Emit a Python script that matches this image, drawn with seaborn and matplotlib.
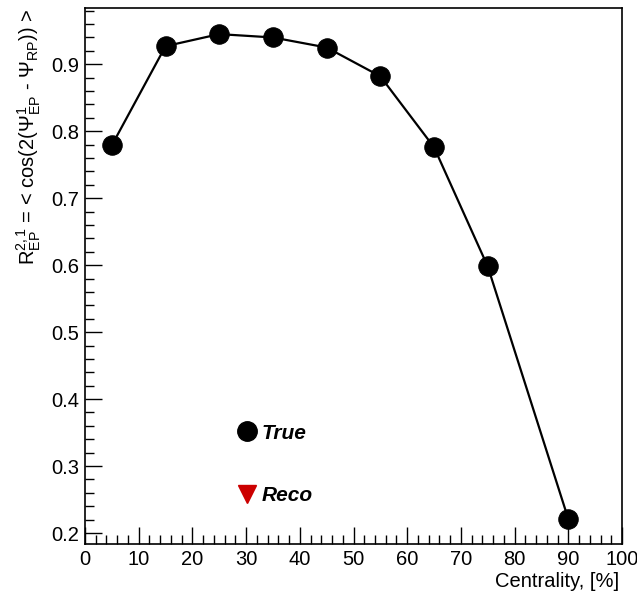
import matplotlib
matplotlib.use("Agg")
import matplotlib.pyplot as plt
from matplotlib.lines import Line2D
from matplotlib.ticker import MultipleLocator, FormatStrFormatter
import seaborn as sns
import pandas as pd

# Event-plane resolution vs centrality
centrality = [5, 15, 25, 35, 45, 55, 65, 75, 90]
resolution_true = [0.779, 0.927, 0.945, 0.940, 0.925, 0.882, 0.776, 0.598, 0.221]
series_labels = ["True", "Reco"]

sns.set_theme(style="ticks")
plt.rcParams["font.family"] = ["Liberation Sans", "DejaVu Sans"]
plt.rcParams["mathtext.fontset"] = "custom"
plt.rcParams["mathtext.rm"] = "Liberation Sans"
plt.rcParams["mathtext.it"] = "Liberation Sans:italic"
plt.rcParams["text.color"] = "black"
plt.rcParams["axes.labelcolor"] = "black"

W, H = 637, 591
fig = plt.figure(figsize=(W / 100, H / 100), dpi=100)
ax = fig.add_axes([85 / W, 1 - 544 / H, (622 - 85) / W, (544 - 8) / H])

df = pd.DataFrame({"centrality": centrality, "R": resolution_true})
sns.lineplot(data=df, x="centrality", y="R", ax=ax, color="black", lw=1.6,
             marker="o", markersize=14, markeredgecolor="black", sort=False)

ax.set_xlim(0, 100)
ax.set_ylim(0.1836, 0.984)
ax.xaxis.set_major_locator(MultipleLocator(10))
ax.xaxis.set_minor_locator(MultipleLocator(2))
ax.yaxis.set_major_locator(MultipleLocator(0.1))
ax.yaxis.set_minor_locator(MultipleLocator(0.02))
ax.tick_params(which="both", direction="in", top=False, right=False,
               labelsize=14.5, colors="black", width=1)
ax.tick_params(which="major", length=12.5, pad=4)
ax.tick_params(which="minor", length=6.5)
ax.yaxis.set_major_formatter(FormatStrFormatter("%.1f"))
ax.xaxis.set_major_formatter(FormatStrFormatter("%d"))
for s in ax.spines.values():
    s.set_linewidth(1.2)
    s.set_color("black")

ax.set_xlabel("Centrality, [%]", fontsize=14.5, ha="right")
ax.xaxis.set_label_coords((619 - 85) / (622 - 85), -0.052)
ax.set_ylabel(r"R$\mathregular{^{2,1}_{EP}}$ = < cos(2($\mathregular{\Psi^{1}_{EP}}$ - "
              r"$\mathregular{\Psi_{RP}}$)) >", fontsize=14.5, ha="right")
ax.yaxis.set_label_coords(-0.078, 1.0)

handles = [
    Line2D([], [], color="black", marker="o", markersize=14, lw=0),
    Line2D([], [], color="#cc0000", marker="v", markersize=13, lw=0),
]
leg = ax.legend(handles, series_labels, loc="lower left",
                bbox_to_anchor=(0.252, 0.037), frameon=False, handlelength=0.8,
                handletextpad=0.3, labelspacing=2.1,
                prop={"weight": "bold", "style": "italic", "size": 15})
for t in leg.get_texts():
    t.set_color("black")

fig.savefig("out.png", dpi=100)
